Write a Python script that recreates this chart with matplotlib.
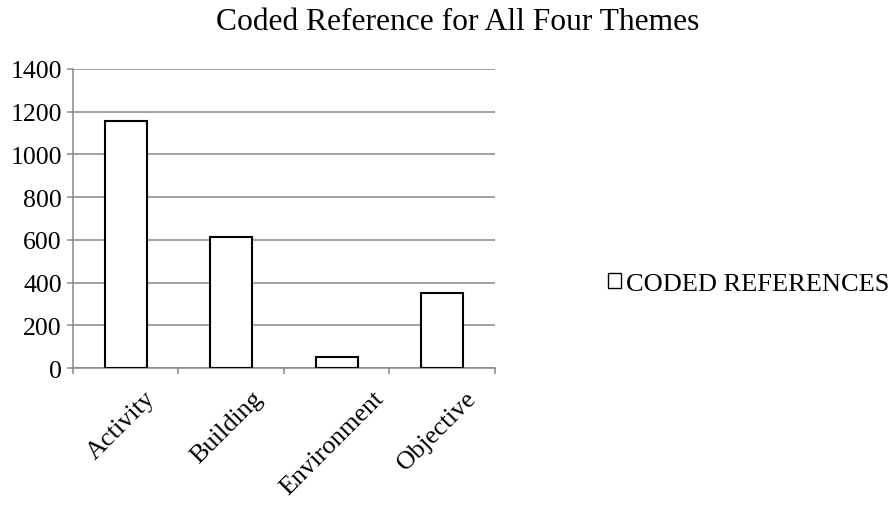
import matplotlib
matplotlib.use("Agg")
import matplotlib.pyplot as plt
from matplotlib.patches import Patch

categories = ["Activity", "Building", "Environment", "Objective"]
coded_references = [1155, 612, 50, 350]
y_ticks = [0, 200, 400, 600, 800, 1000, 1200, 1400]
series_name = "CODED REFERENCES"
title = "Coded Reference for All Four Themes"

plt.rcParams["font.family"] = ["Liberation Serif", "DejaVu Serif"]

fig = plt.figure(figsize=(8.95, 5.06), dpi=100)
ax = fig.add_axes([73 / 895, 1 - 369 / 506, (495 - 73) / 895, (369 - 70) / 506])

x = list(range(len(categories)))
ax.bar(x, coded_references, width=0.4, facecolor="white", edgecolor="black",
       linewidth=1.5, zorder=3)

ax.set_xlim(-0.5, len(categories) - 0.5)
ax.set_ylim(0, 1400)
ax.set_yticks(y_ticks)
ax.set_yticklabels([str(v) for v in y_ticks], fontsize=18.6)
ax.yaxis.grid(True, color="#878787", linewidth=1.1, zorder=0)
ax.tick_params(axis="y", length=4.5, width=1.1, color="#878787", pad=3.5)

# category separators as tick marks below the axis
ax.set_xticks([i - 0.5 for i in range(len(categories) + 1)])
ax.set_xticklabels([])
ax.tick_params(axis="x", length=4.5, width=1.1, color="#878787")
for i, name in enumerate(categories):
    ax.annotate(name, xy=(i, 0), xycoords="data",
                xytext=(-3.5, -13.5), textcoords="offset points",
                rotation=45, ha="center", va="top", fontsize=18.8)

for side in ("top", "right"):
    ax.spines[side].set_visible(False)
for side in ("left", "bottom"):
    ax.spines[side].set_color("#878787")
    ax.spines[side].set_linewidth(1.1)

fig.text(458 / 895, 1 - 30 / 506, title, ha="center", va="baseline",
         fontsize=22.7)

handle = Patch(facecolor="white", edgecolor="black", linewidth=1.0)
fig.legend([handle], [series_name], loc="center left",
           bbox_to_anchor=(608 / 895, 1 - 285 / 506), frameon=False,
           fontsize=19, handlelength=0.5, handleheight=0.5, handletextpad=0.2,
           borderpad=0, borderaxespad=0)

fig.savefig("out.png", dpi=100)
